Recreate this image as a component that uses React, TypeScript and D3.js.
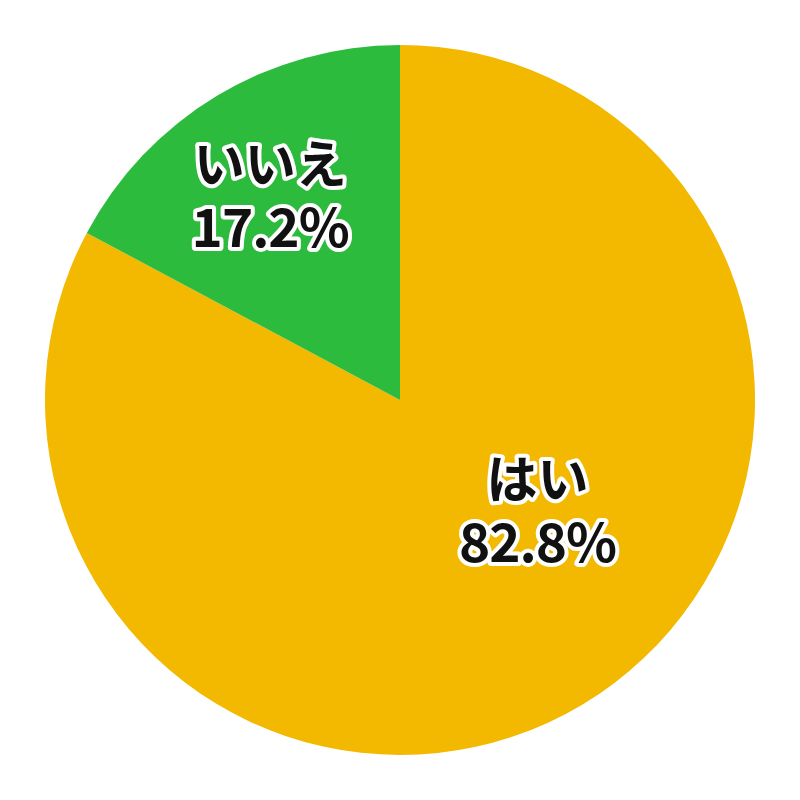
import React from 'react';
import * as d3 from 'd3';

const categories = ['はい', 'いいえ'];
const values = [82.8, 17.2];
const colors = ['#F3B800', '#2CBB3C'];

// label placement in polar form (angle in degrees, radius in px) per slice
const labelAngles = [128.6, 327.7];
const labelRadii = [176, 243];

const width = 800;
const height = 800;
const cx = 400;
const cy = 400;
const radius = 355;

const App: React.FC = () => {
  const pie = d3
    .pie<number>()
    .sort(null)
    .value((d) => d);
  const arcs = pie(values);
  const arc = d3.arc<d3.PieArcDatum<number>>().innerRadius(0).outerRadius(radius);

  const textStyle: React.CSSProperties = {
    fontFamily: '"Noto Sans CJK JP", "Noto Sans", sans-serif',
    fontWeight: 700,
    paintOrder: 'stroke',
  };

  return (
    <svg
      width={width}
      height={height}
      style={{ position: 'absolute', left: 0, top: 0, background: '#fff' }}
    >
      <g transform={`translate(${cx},${cy})`}>
        {arcs.map((a, i) => (
          <path key={categories[i]} d={arc(a) || ''} fill={colors[i]} />
        ))}
        {arcs.map((a, i) => {
          const ang = (labelAngles[i] * Math.PI) / 180;
          const x = labelRadii[i] * Math.sin(ang);
          const y = -labelRadii[i] * Math.cos(ang);
          return (
            <g key={'lbl' + i} transform={`translate(${x},${y})`} style={textStyle}>
              <text
                y={-12}
                textAnchor="middle"
                fontSize={51}
                fill="#111"
                stroke="#fff"
                strokeWidth={8}
                strokeLinejoin="round"
              >
                {categories[i]}
              </text>
              <text
                y={52}
                textAnchor="middle"
                fontSize={53}
                letterSpacing={-1}
                fill="#111"
                stroke="#fff"
                strokeWidth={8}
                strokeLinejoin="round"
              >
                {values[i].toFixed(1)}%
              </text>
            </g>
          );
        })}
      </g>
    </svg>
  );
};

export default App;
